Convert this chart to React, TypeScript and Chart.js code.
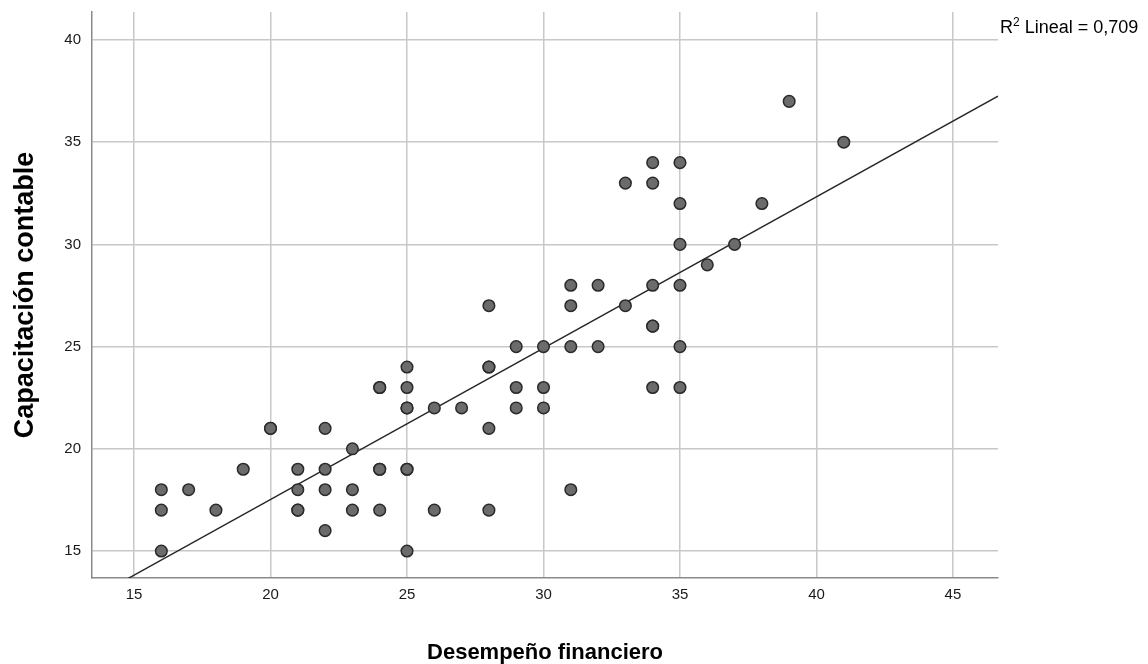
import React, { useEffect, useRef } from "react";
import { Chart, registerables } from "chart.js";

Chart.register(...registerables);

// Desempeño financiero (x) — one entry per case
const desempeno = [
  16, 16, 16, 17, 18, 19, 20, 20,
  21, 21, 21, 21,
  22, 22, 22, 22,
  23, 23, 23,
  24, 24, 24, 24, 24,
  25, 25, 25, 25, 25, 25, 25,
  26, 26, 27,
  28, 28, 28, 28, 28,
  29, 29, 29,
  30, 30, 30,
  31, 31, 31, 31,
  32, 32,
  33, 33,
  34, 34, 34, 34, 34, 34,
  35, 35, 35, 35, 35, 35,
  36, 37, 38, 39, 41,
];

// Capacitación contable (y) — same order as desempeno
const capacitacion = [
  18, 17, 15, 18, 17, 19, 21, 21,
  19, 18, 17, 17,
  21, 19, 18, 16,
  20, 18, 17,
  23, 23, 19, 19, 17,
  24, 23, 22, 22, 19, 19, 15,
  22, 17, 22,
  27, 24, 24, 21, 17,
  25, 23, 22,
  25, 23, 22,
  28, 27, 25, 18,
  28, 25,
  33, 27,
  34, 33, 28, 26, 26, 23,
  34, 32, 30, 28, 25, 23,
  29, 30, 32, 37, 35,
];

const xTickValues = [15, 20, 25, 30, 35, 40, 45];
const yTickValues = [15, 20, 25, 30, 35, 40];
const xRange = [13.46, 46.65];
const yRange = [13.68, 41.37];
const xTitle = "Desempeño financiero";
const yTitle = "Capacitación contable";
const r2Text = " Lineal = 0,709";

const FONT = '"Liberation Sans", Arial, sans-serif';

function leastSquares(xs: number[], ys: number[]) {
  const n = xs.length;
  const mx = xs.reduce((a, b) => a + b, 0) / n;
  const my = ys.reduce((a, b) => a + b, 0) / n;
  let sxy = 0;
  let sxx = 0;
  for (let i = 0; i < n; i++) {
    sxy += (xs[i] - mx) * (ys[i] - my);
    sxx += (xs[i] - mx) * (xs[i] - mx);
  }
  const slope = sxy / sxx;
  return { slope, intercept: my - slope * mx };
}

const r2Plugin = {
  id: "r2label",
  afterDraw(chart: any) {
    const ctx = chart.ctx;
    const area = chart.chartArea;
    const x = area.right + 2;
    const y = 33;
    ctx.save();
    ctx.fillStyle = "#000";
    ctx.textBaseline = "alphabetic";
    ctx.textAlign = "left";
    ctx.font = `18px ${FONT}`;
    ctx.fillText("R", x, y);
    const wR = ctx.measureText("R").width;
    ctx.font = `12px ${FONT}`;
    ctx.fillText("2", x + wR, y - 7);
    const w2 = ctx.measureText("2").width;
    ctx.font = `18px ${FONT}`;
    ctx.fillText(r2Text, x + wR + w2, y);
    ctx.restore();
  },
};

export default function App() {
  const ref = useRef<HTMLCanvasElement | null>(null);

  useEffect(() => {
    if (!ref.current) return;
    const points = desempeno.map((x, i) => ({ x, y: capacitacion[i] }));
    const { slope, intercept } = leastSquares(desempeno, capacitacion);
    const fit = xRange.map((x) => ({ x, y: intercept + slope * x }));

    const chart = new Chart(ref.current, {
      type: "scatter",
      data: {
        datasets: [
          {
            type: "line",
            label: "Lineal",
            data: fit,
            borderColor: "#262626",
            borderWidth: 1.4,
            pointRadius: 0,
            fill: false,
            order: 2,
          } as any,
          {
            label: "Casos",
            data: points,
            backgroundColor: "#6b6b6b",
            borderColor: "#2a2a2a",
            borderWidth: 1.5,
            pointRadius: 5.8,
            order: 1,
          },
        ],
      },
      options: {
        responsive: false,
        animation: false,
        events: [],
        layout: { padding: { top: 12, right: 150, left: 0, bottom: 0 } },
        plugins: {
          legend: { display: false },
          tooltip: { enabled: false },
        },
        scales: {
          x: {
            type: "linear",
            min: xRange[0],
            max: xRange[1],
            afterFit: (s: any) => {
              s.height = 86;
            },
            afterBuildTicks: (s: any) => {
              s.ticks = xTickValues.map((v) => ({ value: v }));
            },
            grid: {
              color: "#c8c8c8",
              lineWidth: 1.5,
              drawTicks: true,
              tickLength: 5,
              tickColor: "rgba(0,0,0,0)",
            },
            border: { display: true, color: "#8a8a8a", width: 1.5 },
            ticks: {
              padding: 3,
              color: "#1a1a1a",
              font: { family: FONT, size: 15 },
            },
            title: {
              display: true,
              text: xTitle,
              color: "#000",
              font: { family: FONT, size: 22, weight: "bold", lineHeight: 1 },
              padding: { top: 0, bottom: 0 },
            },
          },
          y: {
            type: "linear",
            min: yRange[0],
            max: yRange[1],
            afterFit: (s: any) => {
              s.width = 92;
            },
            afterBuildTicks: (s: any) => {
              s.ticks = yTickValues.map((v) => ({ value: v }));
            },
            grid: {
              color: "#c8c8c8",
              lineWidth: 1.5,
              drawTicks: true,
              tickLength: 8,
              tickColor: "rgba(0,0,0,0)",
            },
            border: { display: true, color: "#8a8a8a", width: 1.5 },
            ticks: {
              padding: 3,
              color: "#1a1a1a",
              font: { family: FONT, size: 15 },
            },
            title: {
              display: true,
              text: yTitle,
              color: "#000",
              font: { family: FONT, size: 27, weight: "bold", lineHeight: 1.2 },
              padding: { top: 9, bottom: 0 },
            },
          },
        },
      },
      plugins: [r2Plugin],
    });
    return () => chart.destroy();
  }, []);

  return (
    <div style={{ position: "fixed", left: 0, top: 0, width: 1148, height: 664, background: "#fff" }}>
      <canvas ref={ref} width={1148} height={664} />
    </div>
  );
}
